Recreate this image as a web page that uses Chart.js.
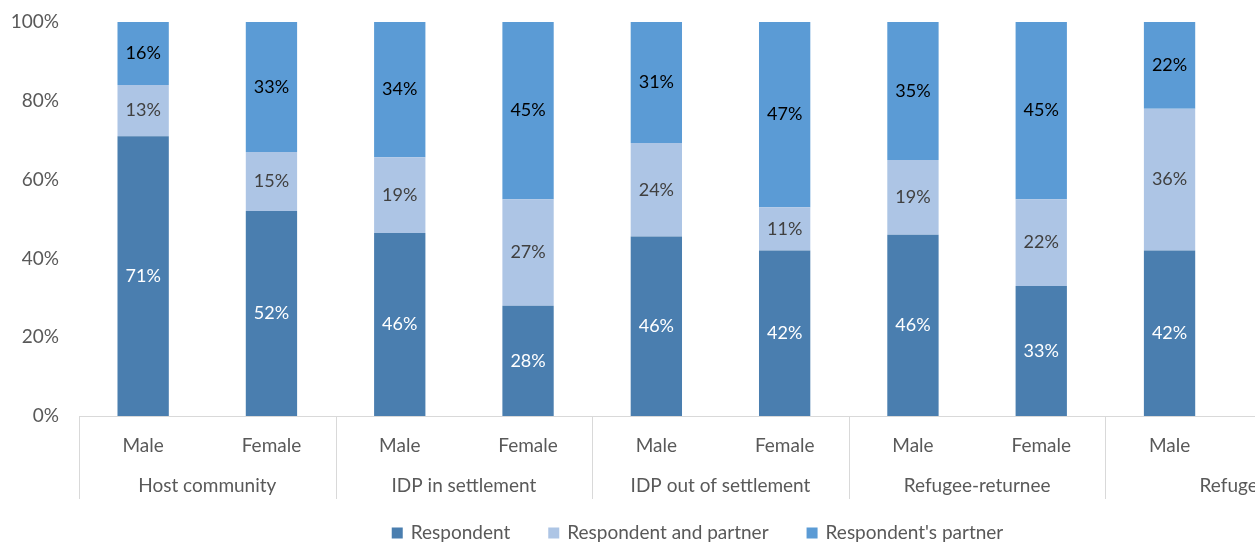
<!DOCTYPE html>
<html>
<head>
<meta charset="utf-8">
<script src="https://cdn.jsdelivr.net/npm/chart.js@4"></script>
<style>
  html, body { margin: 0; padding: 0; background: #fff; overflow: hidden; }
  #wrap { width: 1395px; height: 543px; }
</style>
</head>
<body>
<div id="wrap"><canvas id="chart" width="1395" height="543"></canvas></div>
<script>
// categories (two-level axis: gender within population group)
const genders = ['Male', 'Female', 'Male', 'Female', 'Male', 'Female', 'Male', 'Female', 'Male', 'Female'];
const groups = ['Host community', 'IDP in settlement', 'IDP out of settlement', 'Refugee-returnee', 'Refugee'];

// series values, percent (last Female bar is outside the visible area)
const respondent        = [71, 52, 46, 28, 46, 42, 46, 33, 42, null];
const respondentPartner = [13, 15, 19, 27, 24, 11, 19, 22, 36, null];
const partnerOnly       = [16, 33, 34, 45, 31, 47, 35, 45, 22, null];

const yTicks = [0, 20, 40, 60, 80, 100];

const FONT = 'Lato, "Open Sans", sans-serif';
const GREY = '#595959';
const LINE = '#d9d9d9';
const AXIS_SIZE = 19;

// 100% stacking: each bar is scaled to its own total
const totals = respondent.map((v, i) => v == null ? null : v + respondentPartner[i] + partnerOnly[i]);
const share = arr => arr.map((v, i) => v == null ? null : v / totals[i] * 100);

const series = [
  { label: 'Respondent', raw: respondent, color: '#4a7eaf', text: '#ffffff' },
  { label: 'Respondent and partner', raw: respondentPartner, color: '#adc5e5', text: '#404040' },
  { label: "Respondent's partner", raw: partnerOnly, color: '#5b9bd5', text: '#000000' }
];

const segmentLabels = {
  id: 'segmentLabels',
  afterDatasetsDraw(chart) {
    const ctx = chart.ctx;
    ctx.save();
    ctx.font = '18px ' + FONT;
    ctx.textAlign = 'center';
    ctx.textBaseline = 'middle';
    chart.data.datasets.forEach((ds, di) => {
      const meta = chart.getDatasetMeta(di);
      meta.data.forEach((bar, i) => {
        const v = series[di].raw[i];
        if (v == null) return;
        ctx.fillStyle = series[di].text;
        ctx.fillText(v + '%', bar.x, (bar.y + bar.base) / 2);
      });
    });
    ctx.restore();
  }
};

// group row under the gender labels, with separators between groups
const groupAxis = {
  id: 'groupAxis',
  afterDraw(chart) {
    const ctx = chart.ctx;
    const x = chart.scales.x;
    const area = chart.chartArea;
    const step = x.getPixelForValue(1) - x.getPixelForValue(0);
    ctx.save();
    ctx.strokeStyle = LINE;
    ctx.lineWidth = 1;
    ctx.font = AXIS_SIZE + 'px ' + FONT;
    ctx.fillStyle = GREY;
    ctx.textAlign = 'center';
    ctx.textBaseline = 'middle';
    groups.forEach((g, gi) => {
      const left = x.getPixelForValue(gi * 2) - step / 2;
      const right = x.getPixelForValue(gi * 2 + 1) + step / 2;
      const lx = Math.round(left) + 0.5;
      ctx.beginPath();
      ctx.moveTo(lx, area.bottom);
      ctx.lineTo(lx, area.bottom + 83);
      ctx.stroke();
      ctx.fillText(g, (left + right) / 2, area.bottom + 70);
    });
    ctx.restore();
  }
};

// legend row along the bottom edge, centred on the canvas
const bottomLegend = {
  id: 'bottomLegend',
  afterDraw(chart) {
    const ctx = chart.ctx;
    const box = 11, gapText = 8, gapItem = 38, y = 533;
    ctx.save();
    ctx.font = AXIS_SIZE + 'px ' + FONT;
    ctx.textBaseline = 'middle';
    ctx.textAlign = 'left';
    const items = chart.data.datasets.map(ds => ({
      text: ds.label, color: ds.backgroundColor, w: box + gapText + ctx.measureText(ds.label).width
    }));
    const total = items.reduce((s, it) => s + it.w, 0) + gapItem * (items.length - 1);
    let x = (chart.width - total) / 2;
    items.forEach(it => {
      ctx.fillStyle = it.color;
      ctx.fillRect(x, y - box / 2, box, box);
      ctx.fillStyle = GREY;
      ctx.fillText(it.text, x + box + gapText, y);
      x += it.w + gapItem;
    });
    ctx.restore();
  }
};

new Chart(document.getElementById('chart'), {
  type: 'bar',
  data: {
    labels: genders,
    datasets: series.map(s => ({
      label: s.label,
      data: share(s.raw),
      backgroundColor: s.color,
      borderWidth: 0,
      categoryPercentage: 0.4,
      barPercentage: 1
    }))
  },
  options: {
    responsive: false,
    animation: false,
    events: [],
    layout: { padding: { top: 22, right: 33, left: 0, bottom: 43 } },
    scales: {
      x: {
        stacked: true,
        grid: { display: false, drawTicks: false },
        border: { color: LINE },
        ticks: { color: GREY, font: { family: FONT, size: AXIS_SIZE }, padding: 18, maxRotation: 0 },
        afterFit: s => { s.height = 84; }
      },
      y: {
        stacked: true,
        min: 0,
        max: 100,
        grid: { display: false, drawTicks: false },
        border: { display: false },
        afterBuildTicks: s => { s.ticks = yTicks.map(v => ({ value: v })); },
        ticks: { color: GREY, font: { family: FONT, size: AXIS_SIZE }, padding: 20, callback: v => v + '%' },
        afterFit: s => { s.width = 79; s.paddingTop = 0; s.paddingBottom = 0; }
      }
    },
    plugins: {
      legend: { display: false },
      tooltip: { enabled: false }
    }
  },
  plugins: [segmentLabels, groupAxis, bottomLegend]
});
</script>
</body>
</html>
